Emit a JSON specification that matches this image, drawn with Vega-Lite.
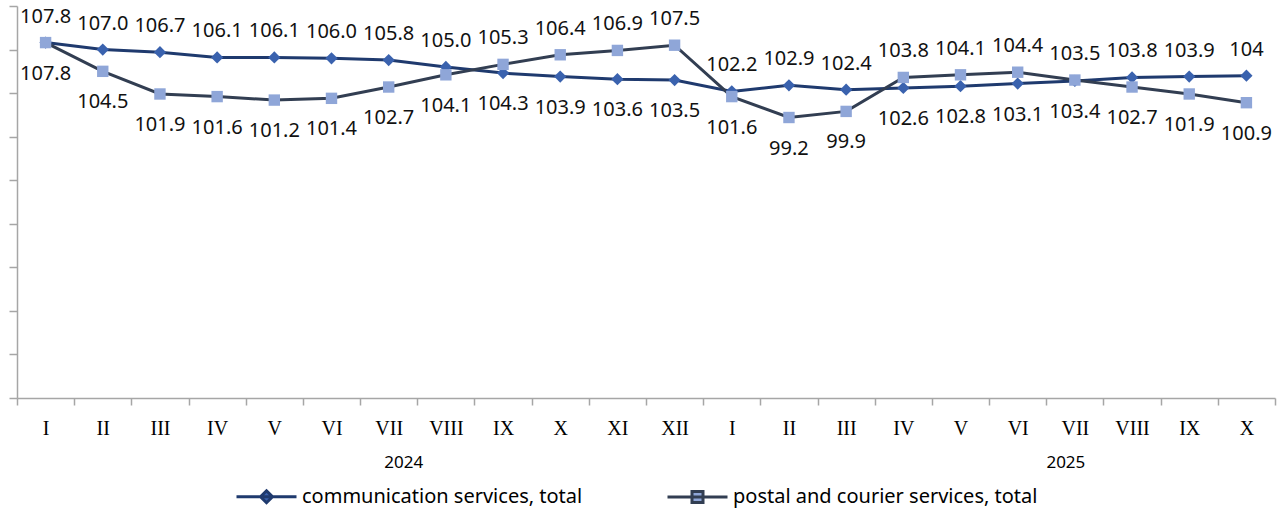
{
  "$schema": "https://vega.github.io/schema/vega-lite/v6.json",
  "autosize": {"type": "none"},
  "padding": {"left": 17, "top": 6, "right": 6, "bottom": 112},
  "width": 1258,
  "height": 392,
  "background": "white",
  "config": {
    "view": {"stroke": null},
    "axis": {"grid": false, "domainColor": "#A6A6A6", "tickColor": "#A6A6A6", "domainWidth": 1.5, "tickWidth": 1.5},
    "legend": {"layout": {"bottom": {"anchor": "middle"}}}
  },
  "data": {
    "values": [
      {"month": "2024-I", "series": "communication services, total", "value": 107.8, "label": "107.8"},
      {"month": "2024-II", "series": "communication services, total", "value": 107.0, "label": "107.0"},
      {"month": "2024-III", "series": "communication services, total", "value": 106.7, "label": "106.7"},
      {"month": "2024-IV", "series": "communication services, total", "value": 106.1, "label": "106.1"},
      {"month": "2024-V", "series": "communication services, total", "value": 106.1, "label": "106.1"},
      {"month": "2024-VI", "series": "communication services, total", "value": 106.0, "label": "106.0"},
      {"month": "2024-VII", "series": "communication services, total", "value": 105.8, "label": "105.8"},
      {"month": "2024-VIII", "series": "communication services, total", "value": 105.0, "label": "105.0"},
      {"month": "2024-IX", "series": "communication services, total", "value": 104.3, "label": "104.3"},
      {"month": "2024-X", "series": "communication services, total", "value": 103.9, "label": "103.9"},
      {"month": "2024-XI", "series": "communication services, total", "value": 103.6, "label": "103.6"},
      {"month": "2024-XII", "series": "communication services, total", "value": 103.5, "label": "103.5"},
      {"month": "2025-I", "series": "communication services, total", "value": 102.2, "label": "102.2"},
      {"month": "2025-II", "series": "communication services, total", "value": 102.9, "label": "102.9"},
      {"month": "2025-III", "series": "communication services, total", "value": 102.4, "label": "102.4"},
      {"month": "2025-IV", "series": "communication services, total", "value": 102.6, "label": "102.6"},
      {"month": "2025-V", "series": "communication services, total", "value": 102.8, "label": "102.8"},
      {"month": "2025-VI", "series": "communication services, total", "value": 103.1, "label": "103.1"},
      {"month": "2025-VII", "series": "communication services, total", "value": 103.4, "label": "103.4"},
      {"month": "2025-VIII", "series": "communication services, total", "value": 103.8, "label": "103.8"},
      {"month": "2025-IX", "series": "communication services, total", "value": 103.9, "label": "103.9"},
      {"month": "2025-X", "series": "communication services, total", "value": 104.0, "label": "104"},
      {"month": "2024-I", "series": "postal and courier services, total", "value": 107.8, "label": "107.8"},
      {"month": "2024-II", "series": "postal and courier services, total", "value": 104.5, "label": "104.5"},
      {"month": "2024-III", "series": "postal and courier services, total", "value": 101.9, "label": "101.9"},
      {"month": "2024-IV", "series": "postal and courier services, total", "value": 101.6, "label": "101.6"},
      {"month": "2024-V", "series": "postal and courier services, total", "value": 101.2, "label": "101.2"},
      {"month": "2024-VI", "series": "postal and courier services, total", "value": 101.4, "label": "101.4"},
      {"month": "2024-VII", "series": "postal and courier services, total", "value": 102.7, "label": "102.7"},
      {"month": "2024-VIII", "series": "postal and courier services, total", "value": 104.1, "label": "104.1"},
      {"month": "2024-IX", "series": "postal and courier services, total", "value": 105.3, "label": "105.3"},
      {"month": "2024-X", "series": "postal and courier services, total", "value": 106.4, "label": "106.4"},
      {"month": "2024-XI", "series": "postal and courier services, total", "value": 106.9, "label": "106.9"},
      {"month": "2024-XII", "series": "postal and courier services, total", "value": 107.5, "label": "107.5"},
      {"month": "2025-I", "series": "postal and courier services, total", "value": 101.6, "label": "101.6"},
      {"month": "2025-II", "series": "postal and courier services, total", "value": 99.2, "label": "99.2"},
      {"month": "2025-III", "series": "postal and courier services, total", "value": 99.9, "label": "99.9"},
      {"month": "2025-IV", "series": "postal and courier services, total", "value": 103.8, "label": "103.8"},
      {"month": "2025-V", "series": "postal and courier services, total", "value": 104.1, "label": "104.1"},
      {"month": "2025-VI", "series": "postal and courier services, total", "value": 104.4, "label": "104.4"},
      {"month": "2025-VII", "series": "postal and courier services, total", "value": 103.5, "label": "103.5"},
      {"month": "2025-VIII", "series": "postal and courier services, total", "value": 102.7, "label": "102.7"},
      {"month": "2025-IX", "series": "postal and courier services, total", "value": 101.9, "label": "101.9"},
      {"month": "2025-X", "series": "postal and courier services, total", "value": 100.9, "label": "100.9"}
    ]
  },
  "transform": [
    {"joinaggregate": [{"op": "max", "field": "value", "as": "mx"}, {"op": "min", "field": "value", "as": "mn"}], "groupby": ["month"]},
    {"calculate": "datum.value == datum.mx && (datum.value != datum.mn || datum.series == 'communication services, total') ? 'above' : 'below'", "as": "place"}
  ],
  "resolve": {"axis": {"x": "independent"}},
  "encoding": {
    "x": {
      "field": "month", "type": "ordinal", "sort": null,
      "scale": {"type": "band", "paddingInner": 0, "paddingOuter": 0}
    },
    "y": {
      "field": "value", "type": "quantitative",
      "scale": {"domain": [67, 112], "nice": false, "zero": false},
      "axis": {"values": [67, 72, 77, 82, 87, 92, 97, 102, 107, 112], "labels": false, "ticks": true, "tickSize": 8, "title": null, "grid": false}
    }
  },
  "layer": [
    {
      "mark": {"type": "line", "strokeWidth": 3},
      "encoding": {
        "x": {
          "field": "month", "type": "ordinal", "sort": null,
          "axis": {"orient": "bottom", "title": null, "labelAngle": 0, "tickBand": "extent", "tickSize": 7, "labelPadding": 13,
                   "labelExpr": "split(datum.value, '-')[1]", "labelFont": "Liberation Serif", "labelFontSize": 20,
                   "labelColor": "#000000", "labelOverlap": false}
        },
        "color": {
          "field": "series", "type": "nominal",
          "scale": {"domain": ["communication services, total", "postal and courier services, total"], "range": ["#1F3A6E", "#323E52"]},
          "legend": {
            "orient": "bottom", "direction": "horizontal", "title": null, "offset": 15,
            "symbolSize": 400, "symbolStrokeWidth": 3, "labelFont": "Noto Sans", "labelFontSize": 20,
            "labelColor": "#000000", "columnPadding": 78, "labelOffset": 24, "labelLimit": 500,
            "encode": {
              "symbols": {
                "update": {
                  "shape": {"signal": "datum.value == 'communication services, total' ? 'M-3,0H3M0,-0.6L0.6,0L0,0.6L-0.6,0Z' : 'M-3,0H3M-0.55,-0.55H0.55V0.55H-0.55Z'"},
                  "fill": {"signal": "datum.value == 'communication services, total' ? '#3A62AE' : '#8FA6D8'"},
                  "fillOpacity": {"value": 1},
                  "size": {"value": 400},
                  "strokeWidth": {"value": 3}
                }
              }
            }
          }
        }
      }
    },
    {
      "transform": [{"filter": "datum.series == 'communication services, total'"}],
      "mark": {"type": "point", "filled": true, "opacity": 1, "shape": "diamond", "size": 150, "color": "#3A62AE"},
      "encoding": {
        "x": {"field": "month", "type": "ordinal", "sort": null, "axis": null}
      }
    },
    {
      "transform": [{"filter": "datum.series == 'postal and courier services, total'"}],
      "mark": {"type": "point", "filled": true, "opacity": 1, "shape": "square", "size": 130, "color": "#8FA6D8"},
      "encoding": {
        "x": {"field": "month", "type": "ordinal", "sort": null, "axis": null}
      }
    },
    {
      "transform": [{"filter": "datum.place == 'above'"}],
      "mark": {"type": "text", "dy": -26, "baseline": "middle", "font": "Noto Sans", "fontSize": 20, "color": "#111111"},
      "encoding": {
        "x": {
          "field": "month", "type": "ordinal", "sort": null,
          "axis": {"orient": "bottom", "title": null, "labelAngle": 0, "ticks": false, "domain": false, "labelPadding": 56,
                   "labelExpr": "datum.value == '2024-VII' ? '2024' : datum.value == '2025-VII' ? '2025' : ''",
                   "labelFont": "Noto Sans", "labelFontSize": 17, "labelColor": "#000000", "labelOverlap": false,
                   "labelOffset": {"condition": {"test": "datum.value == '2024-VII'", "value": 15}, "value": -9}}
        },
        "text": {"field": "label"}
      }
    },
    {
      "transform": [{"filter": "datum.place == 'below'"}],
      "mark": {"type": "text", "dy": 31, "baseline": "middle", "font": "Noto Sans", "fontSize": 20, "color": "#111111"},
      "encoding": {
        "x": {"field": "month", "type": "ordinal", "sort": null, "axis": null},
        "text": {"field": "label"}
      }
    }
  ]
}
